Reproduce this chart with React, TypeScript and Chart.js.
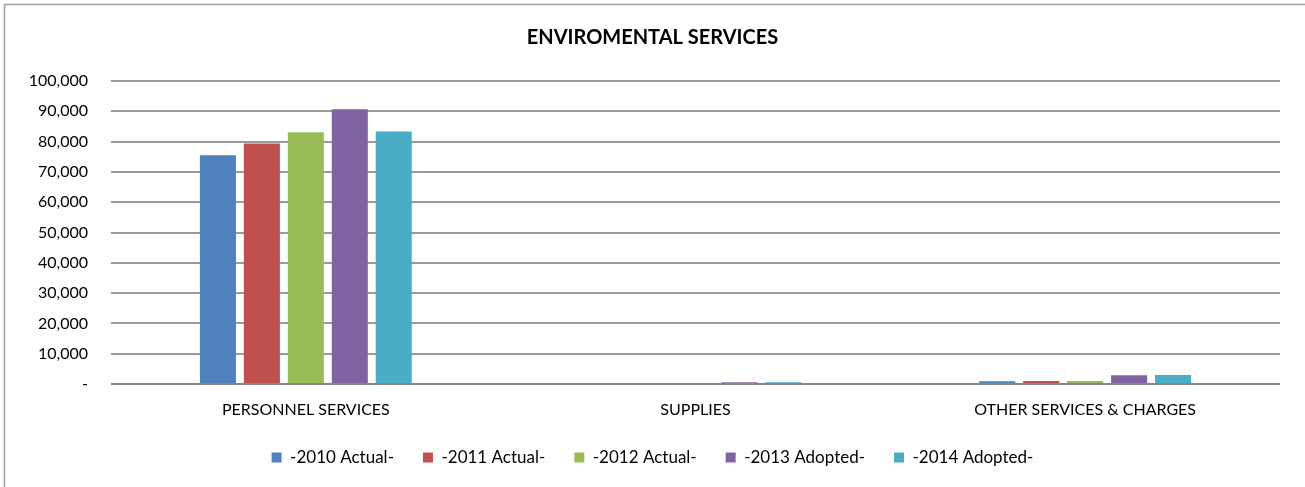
import React, { useEffect, useRef } from "react";
import { Chart, registerables } from "chart.js";

Chart.register(...registerables);

const categories = ["PERSONNEL SERVICES", "SUPPLIES", "OTHER SERVICES & CHARGES"];
const seriesLabels = ["-2010 Actual-", "-2011 Actual-", "-2012 Actual-", "-2013 Adopted-", "-2014 Adopted-"];
const actual2010 = [75500, 0, 900];
const actual2011 = [79400, 0, 1000];
const actual2012 = [83100, 0, 1000];
const adopted2013 = [90700, 550, 2900];
const adopted2014 = [83300, 550, 3000];
const seriesColors = ["#4F81BD", "#C0504D", "#9BBB59", "#8064A2", "#4BACC6"];
const yTicks = [0, 10000, 20000, 30000, 40000, 50000, 60000, 70000, 80000, 90000, 100000];

const FONT = "Lato, 'Open Sans', sans-serif";

const borderPlugin = {
  id: "outerBorder",
  beforeDraw(chart: any) {
    const ctx = chart.ctx;
    ctx.save();
    ctx.strokeStyle = "#a0a0a0";
    ctx.lineWidth = 1.5;
    ctx.beginPath();
    ctx.moveTo(4.5, chart.height);
    ctx.lineTo(4.5, 4.5);
    ctx.lineTo(chart.width, 4.5);
    ctx.stroke();
    ctx.restore();
  },
};

export default function App() {
  const ref = useRef<HTMLCanvasElement | null>(null);

  useEffect(() => {
    if (!ref.current) return;
    const values = [actual2010, actual2011, actual2012, adopted2013, adopted2014];
    const chart = new Chart(ref.current, {
      type: "bar",
      data: {
        labels: categories,
        datasets: values.map((v, i) => ({
          label: seriesLabels[i],
          data: v,
          backgroundColor: seriesColors[i],
          borderWidth: 0,
          categoryPercentage: 0.564,
          barPercentage: 0.82,
        })),
      },
      options: {
        animation: false,
        responsive: false,
        maintainAspectRatio: false,
        layout: { padding: { left: 0, right: 0, top: 0, bottom: 11 } },
        plugins: {
          title: {
            display: true,
            text: "ENVIROMENTAL SERVICES",
            color: "#000",
            font: { family: FONT, size: 20, weight: "bold" },
            padding: { top: 26, bottom: 31 },
          },
          legend: {
            position: "bottom",
            labels: {
              color: "#000",
              font: { family: FONT, size: 17 },
              boxWidth: 10,
              boxHeight: 10,
              padding: 29,
            },
          },
          tooltip: { enabled: false },
        },
        scales: {
          x: {
            grid: { display: false },
            border: { display: false },
            ticks: { color: "#000", font: { family: FONT, size: 16 }, padding: 8, maxRotation: 0 },
            afterFit(scale: any) {
              scale.height = 36;
            },
          },
          y: {
            min: 0,
            max: 100000,
            afterBuildTicks(scale: any) {
              scale.ticks = yTicks.map((v) => ({ value: v }));
            },
            grid: {
              drawTicks: false,
              color: (c: any) => (c.tick && c.tick.value === 0 ? "#868686" : "#9a9a9a"),
              lineWidth: 2,
            },
            border: { display: false },
            ticks: {
              color: "#000",
              font: { family: FONT, size: 16 },
              padding: 23,
              callback: (v: any) => (Number(v) === 0 ? "-" : Number(v).toLocaleString("en-US")),
            },
            afterFit(scale: any) {
              scale.width = 111;
            },
          },
          yRight: {
            position: "right",
            display: true,
            grid: { display: false },
            border: { display: false },
            ticks: { display: false },
            afterFit(scale: any) {
              scale.width = 25;
            },
          },
        },
      },
      plugins: [borderPlugin],
    });
    return () => chart.destroy();
  }, []);

  return (
    <div style={{ position: "absolute", left: 0, top: 0, width: 1305, height: 487, background: "#fff" }}>
      <canvas ref={ref} width={1305} height={487} style={{ display: "block", width: 1305, height: 487 }} />
    </div>
  );
}
